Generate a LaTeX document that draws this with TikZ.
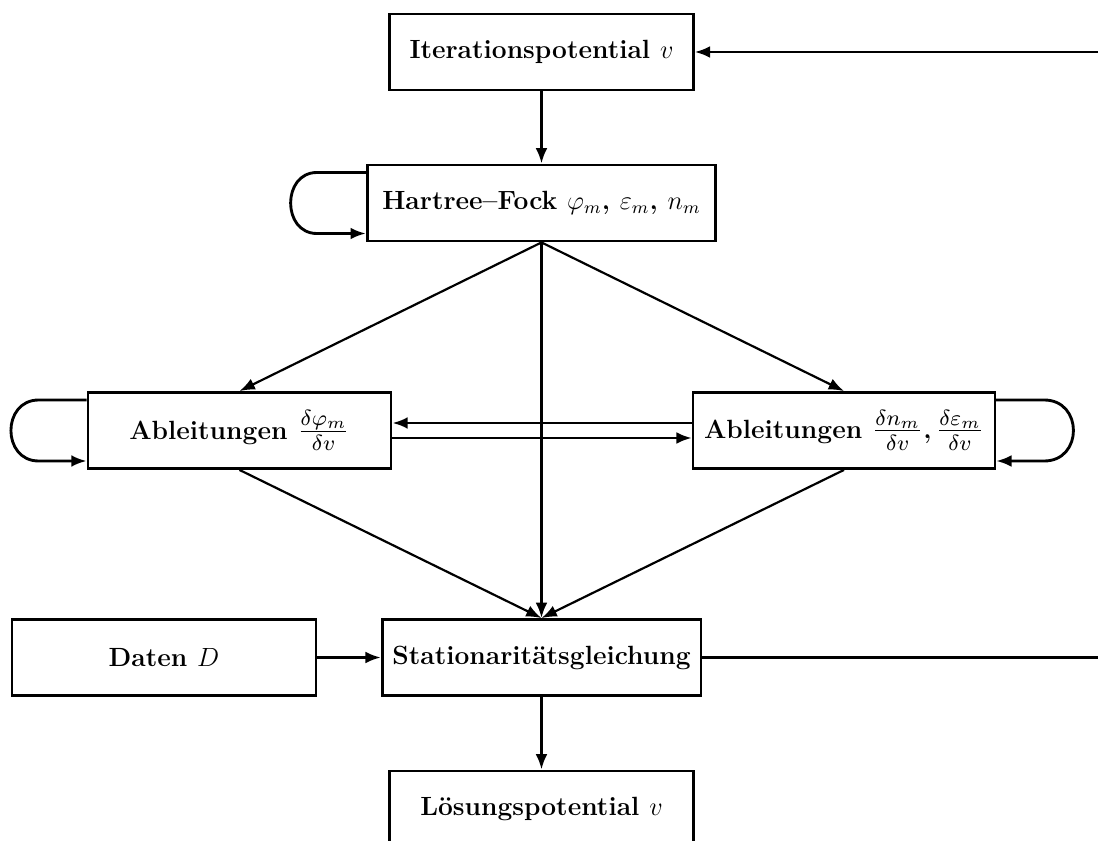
\documentclass[tikz,border=0pt]{standalone}
\usetikzlibrary{arrows.meta}

\newcommand{\grossbruch}[2]{\scalebox{1.25}{$\frac{#1}{#2}$}}

\begin{document}
\begin{tikzpicture}[x = 0.016cm, y = -0.016cm,
  box/.style = {draw, line width = 1.2pt, inner sep = 0pt, minimum height = 1.22cm, font = \large\bfseries},
  pfeil/.style = {line width = 1.3pt, -{Latex[length = 7pt, width = 5.4pt]}},
  schraeg/.style = {line width = 1pt, -{Latex[length = 7pt, width = 5.4pt]}},
  linie/.style = {line width = 1.3pt}]

\useasboundingbox (0, 0) rectangle (1098, 841);

\node[box, minimum width = 4.86cm] (iter) at (541.5, 52) {Iterationspotential $v$};
\node[box, minimum width = 5.58cm] (hf) at (541.5, 203) {Hartree--Fock $\varphi_m$, $\varepsilon_m$, $n_m$};
\node[box, minimum width = 4.85cm] (ablL) at (239.5, 430.5) {Ableitungen \grossbruch{\delta\varphi_m}{\delta v}};
\node[box, minimum width = 4.83cm] (ablR) at (844, 430.5) {Ableitungen \grossbruch{\delta n_m}{\delta v},\,\grossbruch{\delta\varepsilon_m}{\delta v}};
\node[box, minimum width = 4.86cm] (daten) at (164, 657.5) {Daten $D$};
\node[box, minimum width = 5.10cm] (stat) at (541.5, 657.5) {Stationarit\"atsgleichung};
\node[box, minimum width = 4.86cm] (loes) at (541.5, 809) {L\"osungspotential $v$};

\coordinate (rueck) at (1130, 350);

\draw[pfeil] (iter) -- (hf);
\draw[pfeil] (hf) -- (hf.south |- stat.north);
\draw[pfeil] (stat) -- (loes);
\draw[pfeil] (daten) -- (stat);

\draw[schraeg] (hf.south) -- (ablL.north);
\draw[schraeg] (hf.south) -- (ablR.north);
\draw[schraeg] (ablL.south) -- (hf.south |- stat.north);
\draw[schraeg] (ablR.south) -- (hf.south |- stat.north);

\draw[pfeil] ([shift = {(0, -7.5)}]ablR.west) -- ([shift = {(0, -7.5)}]ablL.east);
\draw[pfeil] ([shift = {(0, 7.5)}]ablL.east) -- ([shift = {(0, 7.5)}]ablR.west);

\draw[pfeil] ([shift = {(0, -30.5)}]hf.west) -- ++(-49, 0)
  .. controls +(-35, 0) and +(-35, 0) .. ++(0, 61) -- ([shift = {(0, 30.5)}]hf.west);
\draw[pfeil] ([shift = {(0, -30.5)}]ablL.west) -- ++(-48, 0)
  .. controls +(-37, 0) and +(-37, 0) .. ++(0, 61) -- ([shift = {(0, 30.5)}]ablL.west);
\draw[pfeil] ([shift = {(0, -30.5)}]ablR.east) -- ++(48, 0)
  .. controls +(39, 0) and +(39, 0) .. ++(0, 61) -- ([shift = {(0, 30.5)}]ablR.east);

\draw[pfeil] (stat.east) -- (stat.east -| rueck) -- (iter.east -| rueck) -- (iter.east);

\end{tikzpicture}
\end{document}
